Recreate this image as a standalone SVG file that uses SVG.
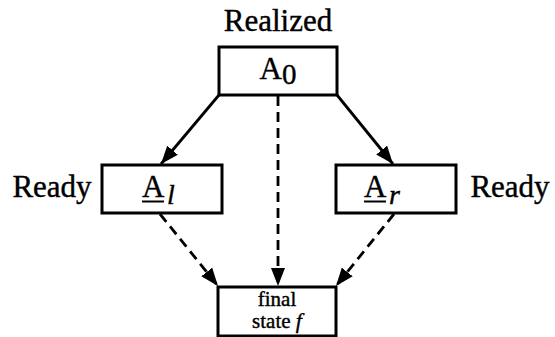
<svg xmlns="http://www.w3.org/2000/svg" width="555" height="337" viewBox="0 0 555 337">
<style>
.box{fill:#fff;stroke:#000;stroke-width:3}
.t{font-family:"Liberation Serif","Times New Roman",serif;fill:#000;stroke:#000;stroke-width:0.4}
.e{stroke:#000;stroke-width:2.8;fill:none}
.d{stroke-dasharray:10 6}
</style>
<defs>
<marker id="ah" markerUnits="userSpaceOnUse" markerWidth="20" markerHeight="14" refX="18" refY="7" orient="auto">
<path d="M0,0 L18,7 L0,14 Z" fill="#000"/>
</marker>
</defs>
<rect width="555" height="337" fill="#fff"/>
<g id="connectors">
<line class="e" x1="219" y1="95" x2="161" y2="164" marker-end="url(#ah)"/>
<line class="e" x1="337" y1="95" x2="393" y2="164" marker-end="url(#ah)"/>
<line class="e d" x1="278" y1="96" x2="278" y2="286" marker-end="url(#ah)"/>
<line class="e d" x1="160" y1="214" x2="218" y2="286" marker-end="url(#ah)"/>
<line class="e d" x1="394" y1="214" x2="336" y2="286" marker-end="url(#ah)"/>
</g>
<g id="A0">
<text class="t" x="278" y="31" font-size="31" text-anchor="middle">Realized</text>
<rect class="box" x="219" y="47" width="118" height="48"/>
<text class="t" x="278" y="79" font-size="31" text-anchor="middle">A<tspan font-size="29" dy="5">0</tspan></text>
</g>
<g id="Al">
<text class="t" x="52" y="197" font-size="31" text-anchor="middle">Ready</text>
<rect class="box" x="102" y="165" width="120" height="48"/>
<text class="t" x="142" y="197" font-size="31">A</text>
<line x1="142" y1="201.5" x2="164" y2="201.5" stroke="#000" stroke-width="2"/>
<text class="t" x="167" y="204" font-size="28" font-style="italic">l</text>
</g>
<g id="Ar">
<rect class="box" x="336" y="165" width="120" height="48"/>
<text class="t" x="510" y="197" font-size="31" text-anchor="middle">Ready</text>
<text class="t" x="364" y="197" font-size="31">A</text>
<line x1="364" y1="201.5" x2="386" y2="201.5" stroke="#000" stroke-width="2"/>
<text class="t" x="389" y="204" font-size="28" font-style="italic">r</text>
</g>
<g id="final">
<rect class="box" x="218" y="287" width="118" height="49"/>
<text class="t" font-size="21" text-anchor="middle"><tspan x="277" y="306">final</tspan><tspan x="277" y="328">state <tspan font-style="italic" font-size="22">f</tspan></tspan></text>
</g>
</svg>
